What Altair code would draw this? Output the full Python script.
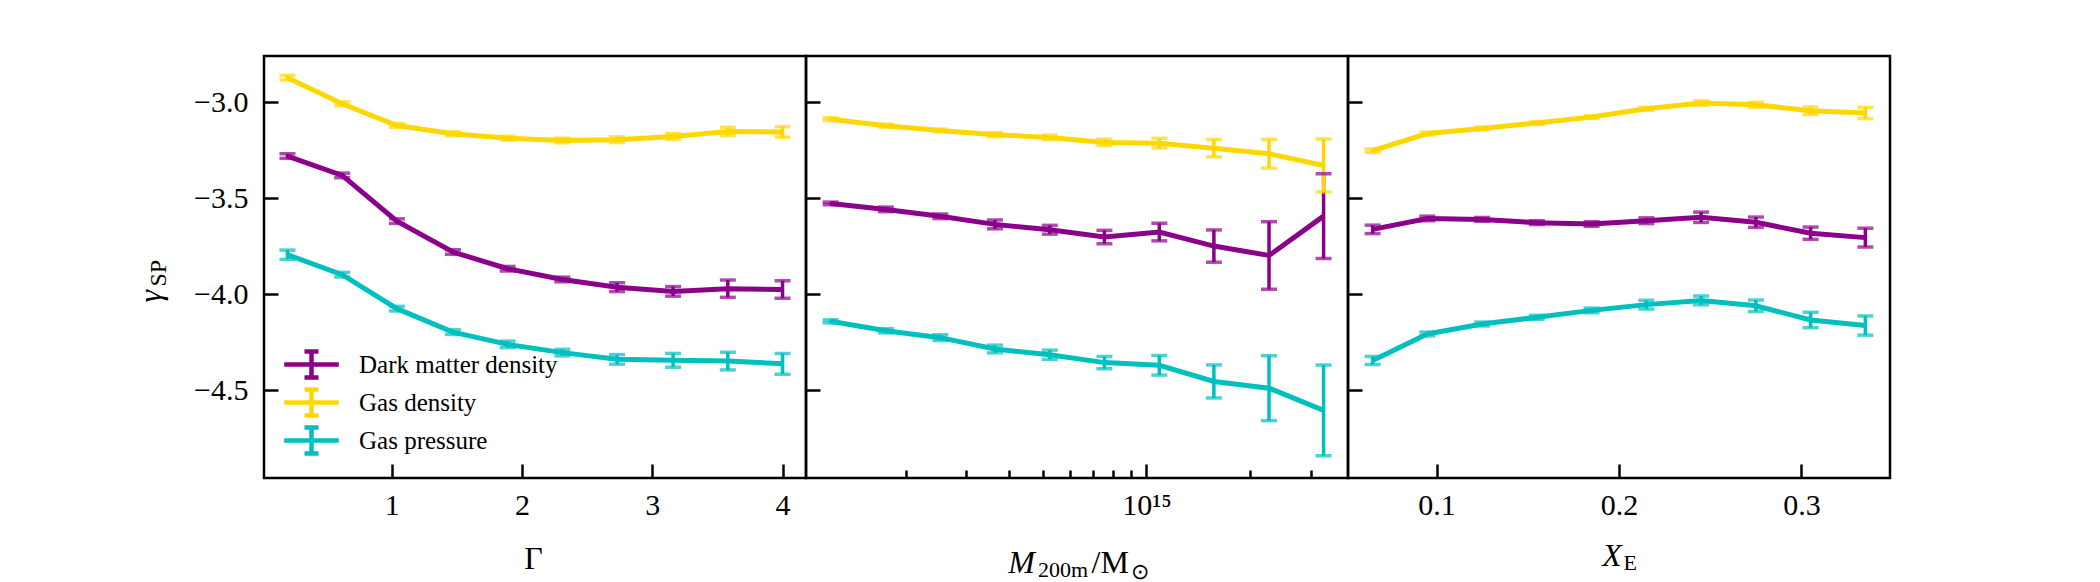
import altair as alt
import pandas as pd

SERIES = ["Dark matter density", "Gas density", "Gas pressure"]
COLORS = ["#8B008B", "#FFD700", "#00BFBF"]

# ---- Panel 1: Gamma ----
gamma = [0.2, 0.62, 1.04, 1.47, 1.89, 2.31, 2.73, 3.16, 3.58, 4.0]
g_dm = [-3.281, -3.382, -3.620, -3.781, -3.868, -3.924, -3.964, -3.986, -3.972, -3.976]
g_dm_err = [0.012, 0.012, 0.012, 0.012, 0.012, 0.012, 0.023, 0.025, 0.045, 0.046]
g_gd = [-2.873, -3.009, -3.122, -3.165, -3.188, -3.200, -3.196, -3.179, -3.153, -3.156]
g_gd_err = [0.012, 0.010, 0.010, 0.010, 0.010, 0.012, 0.015, 0.015, 0.022, 0.027]
g_gp = [-3.795, -3.899, -4.076, -4.198, -4.262, -4.305, -4.340, -4.345, -4.349, -4.363]
g_gp_err = [0.024, 0.012, 0.012, 0.012, 0.017, 0.017, 0.025, 0.036, 0.046, 0.054]

# ---- Panel 2: M200m ----
mass = [1.21e14, 1.75e14, 2.52e14, 3.63e14, 5.24e14, 7.55e14, 1.09e15, 1.57e15, 2.27e15, 3.27e15]
m_dm = [-3.528, -3.559, -3.595, -3.637, -3.665, -3.703, -3.677, -3.750, -3.799, -3.594]
m_dm_err = [0.007, 0.012, 0.012, 0.023, 0.023, 0.035, 0.046, 0.084, 0.176, 0.221]
m_gd = [-3.089, -3.123, -3.148, -3.170, -3.184, -3.210, -3.214, -3.240, -3.269, -3.330]
m_gd_err = [0.007, 0.007, 0.007, 0.010, 0.012, 0.017, 0.025, 0.045, 0.075, 0.138]
m_gp = [-4.142, -4.191, -4.227, -4.286, -4.316, -4.357, -4.371, -4.455, -4.490, -4.606]
m_gp_err = [0.008, 0.011, 0.015, 0.020, 0.024, 0.032, 0.051, 0.086, 0.169, 0.236]

# ---- Panel 3: X_E ----
xe = [0.065, 0.095, 0.125, 0.155, 0.185, 0.215, 0.245, 0.275, 0.305, 0.335]
x_dm = [-3.663, -3.606, -3.611, -3.628, -3.635, -3.618, -3.600, -3.626, -3.683, -3.706]
x_dm_err = [0.022, 0.012, 0.010, 0.010, 0.012, 0.015, 0.027, 0.027, 0.032, 0.049]
x_gd = [-3.253, -3.164, -3.138, -3.109, -3.078, -3.035, -3.005, -3.014, -3.045, -3.057]
x_gd_err = [0.009, 0.007, 0.007, 0.007, 0.007, 0.007, 0.011, 0.013, 0.020, 0.029]
x_gp = [-4.346, -4.208, -4.156, -4.121, -4.085, -4.055, -4.033, -4.061, -4.135, -4.164]
x_gp_err = [0.021, 0.010, 0.010, 0.010, 0.012, 0.023, 0.023, 0.030, 0.040, 0.050]

Y_TICKS = [-3.0, -3.5, -4.0, -4.5]
Y_DOMAIN = [-4.958, -2.76]

W, H = 542, 422
FONT = "Liberation Serif"


def make_df(xs, dm, dme, gd, gde, gp, gpe):
    rows = []
    for name, ys, es in zip(SERIES, [dm, gd, gp], [dme, gde, gpe]):
        for x, y, e in zip(xs, ys, es):
            rows.append({"x": x, "y": y, "lo": y - e, "hi": y + e, "series": name})
    return pd.DataFrame(rows)


df1 = make_df(gamma, g_dm, g_dm_err, g_gd, g_gd_err, g_gp, g_gp_err)
df2 = make_df(mass, m_dm, m_dm_err, m_gd, m_gd_err, m_gp, m_gp_err)
df3 = make_df(xe, x_dm, x_dm_err, x_gd, x_gd_err, x_gp, x_gp_err)

cscale = alt.Scale(domain=SERIES, range=COLORS)
yscale = alt.Scale(domain=Y_DOMAIN, nice=False, zero=False)


def tick_axis(orient, values, labels=True, size=14, fmt=None, label_expr=None, **kw):
    d = dict(orient=orient, values=values, tickSize=size, offset=-size, tickWidth=2.5,
             tickColor="black", domain=False, grid=False, labels=labels,
             labelFont=FONT, labelFontSize=30, labelColor="black",
             labelPadding=16 if orient == "left" else 12,
             labelFlush=False, labelOverlap=False, title=None)
    if fmt:
        d["format"] = fmt
    if label_expr:
        d["labelExpr"] = label_expr
    d.update(kw)
    return alt.Axis(**d)


def title_axis(orient, text, tx, ty, size=32, italic=False, angle=0, offset=0, align="left", **kw):
    d = dict(orient=orient, ticks=False, labels=False, domain=False, grid=False, offset=offset,
             title=text, titleX=tx, titleY=ty, titleFont=FONT, titleFontSize=size,
             titleFontWeight="normal", titleFontStyle="italic" if italic else "normal",
             titleColor="black", titleAlign=align, titleBaseline="alphabetic",
             titleAngle=angle)
    d.update(kw)
    return alt.Axis(**d)


LEGEND_PATH = "M-2.1,0H2.1M0,-1V1M-0.54,-1H0.54M-0.54,1H0.54"


def panel(df, xscale, xaxes, yaxes, legend):
    base = alt.Chart(df)
    col_leg = alt.Color("series:N", scale=cscale, legend=legend)
    col = alt.Color("series:N", scale=cscale, legend=None)
    line = base.mark_line(strokeWidth=5).encode(
        x=alt.X("x:Q", scale=xscale, axis=xaxes[0]),
        y=alt.Y("y:Q", scale=yscale, axis=yaxes[0]),
        color=col_leg,
    )
    rule = base.mark_rule(strokeWidth=3.5).encode(
        x=alt.X("x:Q", scale=xscale, axis=xaxes[1]),
        y=alt.Y("lo:Q", scale=yscale, axis=yaxes[1]),
        y2="hi:Q",
        color=col,
    )
    cap_lo = base.mark_tick(orient="horizontal", size=16, thickness=3.5).encode(
        x=alt.X("x:Q", scale=xscale, axis=xaxes[2]),
        y=alt.Y("lo:Q", scale=yscale, axis=yaxes[2]),
        color=col,
    )
    cap_hi = base.mark_tick(orient="horizontal", size=16, thickness=3.5).encode(
        x=alt.X("x:Q", scale=xscale, axis=xaxes[3]),
        y=alt.Y("hi:Q", scale=yscale, axis=yaxes[3]),
        color=col,
    )
    return alt.layer(line, rule, cap_lo, cap_hi).resolve_axis(
        x="independent", y="independent"
    ).properties(width=W, height=H)


legend1 = alt.Legend(
    orient="none", legendX=32, legendY=293, title=None, symbolType=LEGEND_PATH,
    symbolSize=676, symbolStrokeWidth=4.5, labelFont=FONT, labelFontSize=25,
    labelColor="black", labelOffset=32, rowPadding=-7.6, padding=0, labelLimit=400,
)

# Panel 1
p1 = panel(
    df1,
    alt.Scale(domain=[0.02, 4.18], nice=False, zero=False),
    [
        tick_axis("bottom", [1, 2, 3, 4], fmt="d"),
        title_axis("bottom", "Γ", 269, 90, align="center"),
        None,
        None,
    ],
    [
        tick_axis("left", Y_TICKS, fmt=".1f"),
        title_axis("left", "γ", -104, 246, italic=True, angle=270),
        title_axis("left", "SP", -98.5, 230, size=24, angle=270),
        None,
    ],
    legend1,
)

# Panel 2
p2 = panel(
    df2,
    alt.Scale(type="log", domain=[1.026e14, 3.85e15], nice=False),
    [
        tick_axis("bottom", [1e15], label_expr="'10¹⁵'",
                  title="M", titleX=201.8, titleY=108.5, titleFont=FONT, titleFontSize=32,
                  titleFontStyle="italic", titleFontWeight="normal", titleColor="black",
                  titleAlign="left", titleBaseline="alphabetic"),
        tick_axis("bottom", [2e14, 3e14, 4e14, 5e14, 6e14, 7e14, 8e14, 9e14, 2e15, 3e15],
                  labels=False, size=8,
                  title="200m", titleX=231.4, titleY=106.6, titleFont=FONT, titleFontSize=22,
                  titleFontWeight="normal", titleColor="black",
                  titleAlign="left", titleBaseline="alphabetic"),
        title_axis("bottom", "/M", 285, 94.5),
        title_axis("bottom", "⊙", 324.5, 100, size=22),
    ],
    [tick_axis("left", Y_TICKS, labels=False), None, None, None],
    None,
)

# Panel 3
p3 = panel(
    df3,
    alt.Scale(domain=[0.0515, 0.3485], nice=False, zero=False),
    [
        tick_axis("bottom", [0.1, 0.2, 0.3], fmt=".1f"),
        title_axis("bottom", "X", 253.7, 87.5, italic=True),
        title_axis("bottom", "E", 275, 91, size=22),
        None,
    ],
    [tick_axis("left", Y_TICKS, labels=False), None, None, None],
    None,
)

chart = alt.hconcat(p1, p2, p3, spacing=0, bounds="flush").resolve_scale(
    x="independent", y="independent", color="shared"
).resolve_legend(color="independent").properties(
    padding={"left": 124, "top": 46, "right": 10, "bottom": 5},
    background="white",
).configure_view(stroke="black", strokeWidth=2.5)

chart.save("out.html", embed_options={"renderer": "svg", "actions": False})
